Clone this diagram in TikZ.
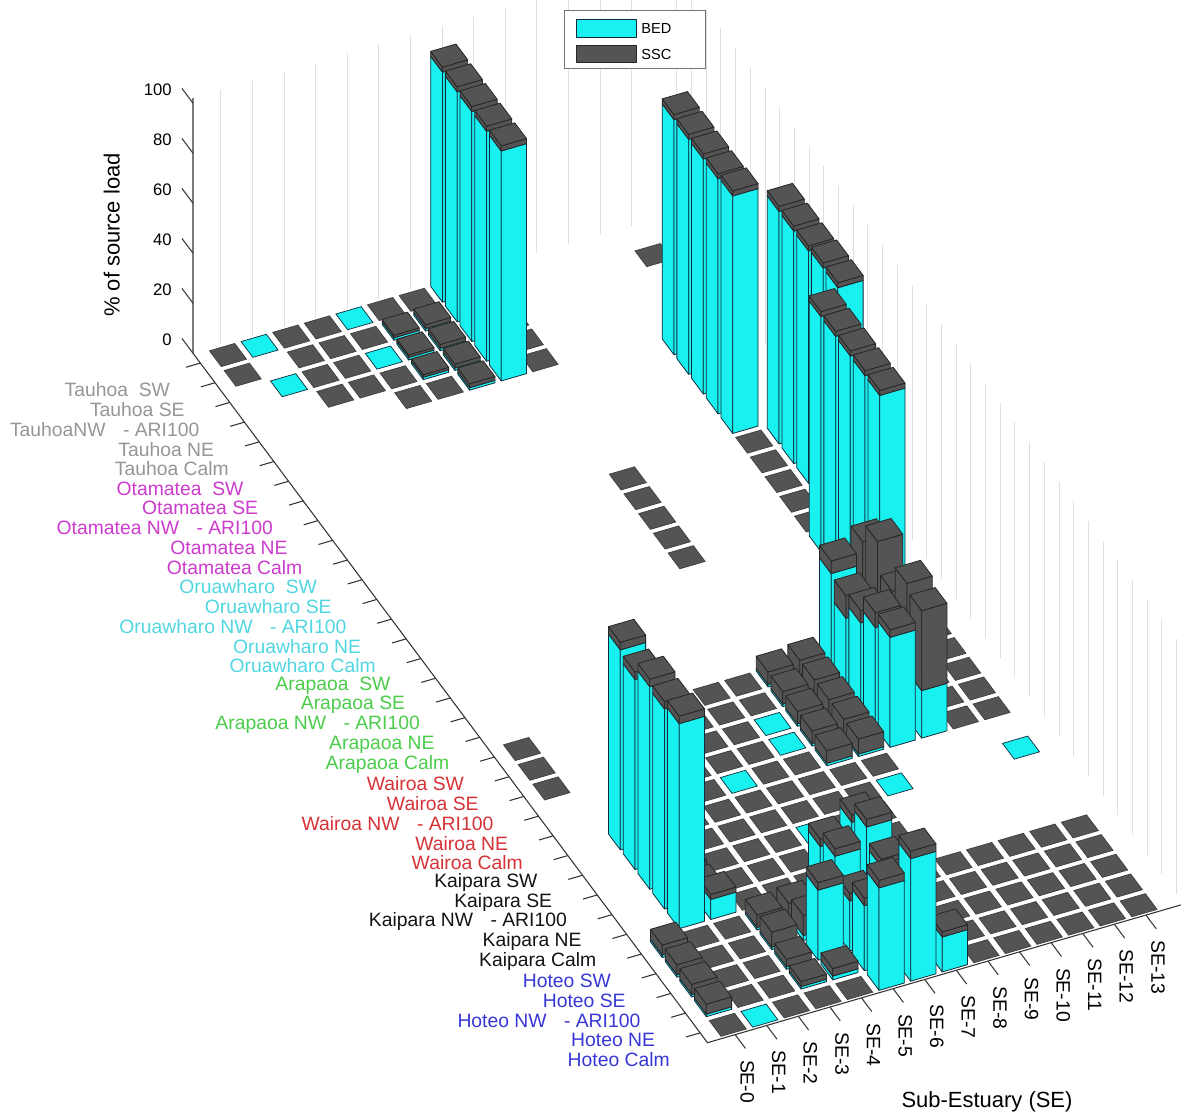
\documentclass[tikz,border=0pt]{standalone}
\usepackage{fontspec}
\setmainfont{Liberation Sans}
\usetikzlibrary{positioning}

\definecolor{bedcol}{RGB}{25,240,240}
\definecolor{ssccol}{RGB}{84,84,84}
\definecolor{edgecol}{RGB}{15,45,60}
\definecolor{tauhoacol}{RGB}{150,150,150}
\definecolor{otamateacol}{RGB}{205,60,205}
\definecolor{oruacol}{RGB}{80,215,225}
\definecolor{arapaoacol}{RGB}{75,205,75}
\definecolor{wairoacol}{RGB}{215,50,55}
\definecolor{kaiparacol}{RGB}{20,20,20}
\definecolor{hoteocol}{RGB}{55,55,215}

% flat square on the floor: row, column, style
\newcommand{\flattile}[3]{%
  \filldraw[#3] (#1-0.4,#2-0.4,0) -- (#1+0.4,#2-0.4,0) -- (#1+0.4,#2+0.4,0) -- (#1-0.4,#2+0.4,0) -- cycle;}

% stacked bar: row, column, BED, SSC
\newcommand{\stackbar}[4]{%
  \pgfmathsetmacro{\ztop}{#3+#4}%
  \filldraw[bed_face] (#1-0.4,#2-0.4,0) -- (#1+0.4,#2-0.4,0) -- (#1+0.4,#2-0.4,#3) -- (#1-0.4,#2-0.4,#3) -- cycle;%
  \filldraw[bed_face] (#1+0.4,#2-0.4,0) -- (#1+0.4,#2+0.4,0) -- (#1+0.4,#2+0.4,#3) -- (#1+0.4,#2-0.4,#3) -- cycle;%
  \filldraw[ssc_face] (#1-0.4,#2-0.4,#3) -- (#1+0.4,#2-0.4,#3) -- (#1+0.4,#2-0.4,\ztop) -- (#1-0.4,#2-0.4,\ztop) -- cycle;%
  \filldraw[ssc_face] (#1+0.4,#2-0.4,#3) -- (#1+0.4,#2+0.4,#3) -- (#1+0.4,#2+0.4,\ztop) -- (#1+0.4,#2-0.4,\ztop) -- cycle;%
  \filldraw[ssc_face] (#1-0.4,#2-0.4,\ztop) -- (#1+0.4,#2-0.4,\ztop) -- (#1+0.4,#2+0.4,\ztop) -- (#1-0.4,#2+0.4,\ztop) -- cycle;}

\begin{document}
\begin{tikzpicture}[x={(2.94mm,-3.94mm)},y={(6.32mm,1.84mm)},z={(0mm,0.5mm)},
  bed_face/.style={fill=bedcol,draw=edgecol,line width=0.45pt,line join=round},
  ssc_face/.style={fill=ssccol,draw=black!85,line width=0.45pt,line join=round},
  tile_dark/.style={fill=ssccol,draw=black!75,line width=0.4pt},
  tile_cyan/.style={fill=bedcol,draw=edgecol,line width=0.4pt},
  wall_grid/.style={draw=black!12,line width=0.4pt},
  axis_line/.style={draw=black!80,line width=0.6pt},
  row_label/.style={anchor=east,inner sep=0pt,font=\fontsize{11}{13}\selectfont},
  col_label/.style={rotate=-90,anchor=west,inner sep=0pt,font=\fontsize{11}{13}\selectfont},
  z_label/.style={anchor=east,inner sep=0pt,font=\fontsize{9.5}{11}\selectfont},
  legend_text/.style={anchor=west,inner sep=0pt,font=\fontsize{8.3}{10}\selectfont}]

\useasboundingbox (-42.66mm,-156.34mm) rectangle (193.54mm,67.06mm);
\fill[white] (-42.66mm,-156.34mm) rectangle (193.54mm,67.06mm);

% back walls
\foreach \cj in {0,...,13}
  \draw[wall_grid] (0.5,\cj,0) -- (0.5,\cj,102);
\foreach \ri in {1,...,35}
  \draw[wall_grid] (\ri,14.2,0) -- (\ri,14.2,102);

% axes
\draw[axis_line] (0.5,-0.875,102) -- (0.5,-0.875,0) -- (35.5,-0.875,0) -- (35.5,14.2,0);
\foreach \zv in {0,20,...,100} {
  \draw[axis_line] (0.5,-0.875,\zv) -- (-0.25,-0.875,\zv);
  \node[z_label] (z\zv) at (-0.318,-1.159,\zv) {\zv};
}
\foreach \ri/\lab/\lc in {1/{Tauhoa\ \ SW}/tauhoacol, 2/{Tauhoa SE}/tauhoacol,
    3/{TauhoaNW\hspace{0.9em}- ARI100}/tauhoacol, 4/{Tauhoa NE}/tauhoacol, 5/{Tauhoa Calm}/tauhoacol,
    6/{Otamatea\ \ SW}/otamateacol, 7/{Otamatea SE}/otamateacol,
    8/{Otamatea NW\hspace{0.9em}- ARI100}/otamateacol, 9/{Otamatea NE}/otamateacol, 10/{Otamatea Calm}/otamateacol,
    11/{Oruawharo\ \ SW}/oruacol, 12/{Oruawharo SE}/oruacol,
    13/{Oruawharo NW\hspace{0.9em}- ARI100}/oruacol, 14/{Oruawharo NE}/oruacol, 15/{Oruawharo Calm}/oruacol,
    16/{Arapaoa\ \ SW}/arapaoacol, 17/{Arapaoa SE}/arapaoacol,
    18/{Arapaoa NW\hspace{0.9em}- ARI100}/arapaoacol, 19/{Arapaoa NE}/arapaoacol, 20/{Arapaoa Calm}/arapaoacol,
    21/{Wairoa SW}/wairoacol, 22/{Wairoa SE}/wairoacol,
    23/{Wairoa NW\hspace{0.9em}- ARI100}/wairoacol, 24/{Wairoa NE}/wairoacol, 25/{Wairoa Calm}/wairoacol,
    26/{Kaipara SW}/kaiparacol, 27/{Kaipara SE}/kaiparacol,
    28/{Kaipara NW\hspace{0.9em}- ARI100}/kaiparacol, 29/{Kaipara NE}/kaiparacol, 30/{Kaipara Calm}/kaiparacol,
    31/{Hoteo SW}/hoteocol, 32/{Hoteo SE}/hoteocol,
    33/{Hoteo NW\hspace{0.9em}- ARI100}/hoteocol, 34/{Hoteo NE}/hoteocol, 35/{Hoteo Calm}/hoteocol} {
  \draw[axis_line] (\ri,-0.875,0) -- (\ri,-1.325,0);
  \node[row_label,text=\lc] (row\ri) at (\ri+0.76,-2.18,0) {\lab};
}
\foreach \cj in {0,...,13} {
  \draw[axis_line] (35.5,\cj,0) -- (36.2,\cj,0);
  \node[col_label] (se\cj) at (36.69,\cj-0.173,0) {SE-\cj};
}
\node[rotate=90,font=\fontsize{12.5}{14}\selectfont] (zlabel) at (-20.32mm,20.06mm) {\% of source load};
\node[font=\fontsize{12.5}{14}\selectfont] (xlabel) at (154.74mm,-153.34mm) {Sub-Estuary (SE)};

% flat tiles
\foreach \ri/\cj in {1/0,1/2,1/3,1/5,1/6,1/8, 2/0,2/2,2/3,2/4,2/8,2/13, 3/2,3/3,3/8, 4/2,4/3,4/4,4/8, 5/4,5/5,5/8,
    11/8,12/8,13/8,14/8,15/8, 11/12,12/12,13/12,14/12,15/12, 16/13,17/13,18/13,19/13,20/13,
    21/0,22/0,23/0,
    21/4,21/5,21/6,21/7,21/12,21/13, 22/4,22/5,22/6,22/7,22/12,22/13,
    23/4,23/5,23/6,23/12,23/13, 24/4,24/5,24/6,24/12,24/13, 25/4,25/6,25/7,25/12,25/13,
    26/2,26/3,26/4,26/5,26/6,26/7,26/8,26/9, 27/3,27/4,27/5,27/6,27/7,27/8,
    28/3,28/4,28/5,28/7,28/8, 29/3,29/4,29/5,29/6,29/7,29/8, 30/3,30/4,30/5,30/6,30/7,30/8,
    35/0,35/2,35/3,35/4,35/8,35/9,35/10,35/11,35/12,35/13}
  \flattile{\ri}{\cj}{tile_dark};
\foreach \ri in {31,...,34}
  \foreach \cj in {1,2,7,8,9,10,11,12,13}
    \flattile{\ri}{\cj}{tile_dark};
\foreach \ri/\cj in {1/1,1/4,3/1,3/4,23/7,24/7,25/5,27/9,27/13,28/6,35/1}
  \flattile{\ri}{\cj}{tile_cyan};

% bars, back to front
\foreach \ri/\cj/\bv/\sv in {1/7/92/2, 2/7/92/2, 2/6/1/1.5, 2/5/1/1, 3/7/92/2, 3/6/1/1.5, 3/5/1/1,
    4/7/92/2, 4/6/1/1.5, 4/5/1/1, 5/7/92/2, 5/6/1/1.5,
    6/12/94/2, 7/12/94/2, 8/12/94/2, 9/12/94/2, 10/12/95/2,
    11/13/93/2, 12/13/93/2, 13/13/93/2, 14/13/94/2, 15/13/94/2,
    16/12/94/2, 17/12/94/2, 18/12/94/2, 19/12/94/2, 20/12/94/2,
    21/11/10/37, 21/10/38/5, 21/9/1/6, 21/8/1/5,
    22/11/15/40, 22/10/28/9, 22/9/1/6, 22/8/1/5,
    23/11/10/33, 23/10/34/5, 23/9/1/6, 23/8/1/5,
    24/11/18/36, 24/10/40/6, 24/9/1/6, 24/8/1/5,
    25/11/19/32, 25/10/44/3, 25/9/1/6, 25/8/1/5,
    26/1/80/3, 27/2/1/4, 27/1/76/3, 28/2/1/4, 28/1/81/3, 29/2/1/4, 29/1/80/3,
    30/2/8/2, 30/1/82/3,
    31/6/32/3, 31/5/26/3, 31/4/1/6, 31/3/1/5, 31/0/1/4,
    32/6/38/3, 32/5/30/3, 32/4/2/8, 32/3/1/6, 32/0/1/4,
    33/6/30/3, 33/5/20/3, 33/4/28/3, 33/3/1/3, 33/0/1/4,
    34/6/30/3, 34/5/26/3, 34/4/1.5/3, 34/3/1/2, 34/0/1/4,
    35/7/14/2, 35/6/49/3, 35/5/41/3}
  \stackbar{\ri}{\cj}{\bv}{\sv};

% legend
\draw[black!55,fill=white,line width=0.5pt] (70.14mm,53.46mm) rectangle (98.34mm,65.06mm);
\filldraw[bed_face] (72.54mm,59.66mm) rectangle (84.54mm,63.26mm);
\filldraw[ssc_face] (72.54mm,54.66mm) rectangle (84.54mm,58.06mm);
\node[legend_text] (legbed) at (85.54mm,61.46mm) {BED};
\node[legend_text] (legssc) at (85.54mm,56.26mm) {SSC};
\end{tikzpicture}
\end{document}
